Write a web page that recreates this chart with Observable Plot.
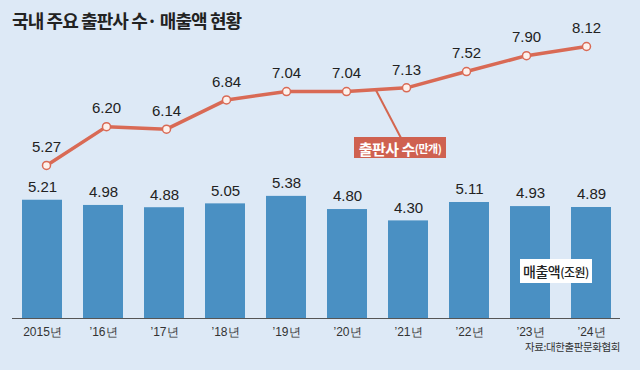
<!DOCTYPE html>
<html><head><meta charset="utf-8">
<script src="https://cdn.jsdelivr.net/npm/d3@7"></script>
<script src="https://cdn.jsdelivr.net/npm/@observablehq/plot@0.6"></script>
<style>
html,body{margin:0;padding:0;}
body{width:640px;height:370px;overflow:hidden;background:#dde9f6;font-family:"Noto Sans CJK KR","Noto Sans",sans-serif;}
#wrap{position:relative;width:640px;height:370px;}
#title{position:absolute;left:12px;top:7px;font-size:18px;font-weight:700;color:#222;letter-spacing:-0.9px;}
#wrap svg{position:absolute;left:0;top:0;}
#source{position:absolute;right:20px;top:339px;font-size:10.5px;color:#333;letter-spacing:-0.4px;}
</style></head>
<body><div id="wrap"><div id="title">국내 주요 출판사 수· 매출액 현황</div><div id="source">자료:대한출판문화협회</div></div>
<script>
const years = ["2015년","’16년","’17년","’18년","’19년","’20년","’21년","’22년","’23년","’24년"];
const sales = [5.21,4.98,4.88,5.05,5.38,4.80,4.30,5.11,4.93,4.89];
const publishers = [5.27,6.20,6.14,6.84,7.04,7.04,7.13,7.52,7.90,8.12];

const barData = years.map((y,i)=>({year:y, v:sales[i]}));
const lineData = years.map((y,i)=>({year:y, v:publishers[i]}));
const numFont = "'Liberation Sans Narrow','Liberation Sans',Arial,sans-serif";
const xOpts = {domain: years, paddingInner: 0.345, paddingOuter: 0.15};

const bars = Plot.plot({
  width: 640, height: 370,
  marginLeft: 12, marginRight: 20, marginTop: 91, marginBottom: 52,
  style: {background: "transparent", overflow: "visible"},
  x: {...xOpts, label: null, tickSize: 0, tickPadding: 8},
  y: {domain: [0, 10], axis: null},
  marks: [
    Plot.barY(barData, {x: "year", y: "v", fill: "#4a90c3"}),
    Plot.ruleY([0], {stroke: "#555", strokeWidth: 1}),
    Plot.text(barData, {x: "year", y: "v", text: d => d.v.toFixed(2), dy: -13, fontSize: 15, fill: "#222", fontFamily: numFont}),
    Plot.axisX({tickSize: 0, tickPadding: 9, fontSize: 12, fill: "#333", fontFamily: numFont, label: null})
  ]
});
document.getElementById("wrap").appendChild(bars);

const line = Plot.plot({
  width: 640, height: 370,
  marginLeft: 12, marginRight: 20, marginTop: 30, marginBottom: 52,
  style: {background: "transparent", overflow: "visible"},
  x: {...xOpts, axis: null},
  y: {domain: [1.605, 8.503], axis: null},
  marks: [
    Plot.lineY(lineData, {x: "year", y: "v", stroke: "#d96a55", strokeWidth: 3.5}),
    Plot.dot(lineData, {x: "year", y: "v", r: 4, fill: "#fdf1ec", stroke: "#d96a55", strokeWidth: 1.5}),
    Plot.text(lineData, {x: "year", y: "v", text: d => d.v.toFixed(2), dy: -18, fontSize: 15, fill: "#222", fontFamily: numFont})
  ]
});
document.getElementById("wrap").appendChild(line);

const ns = "http://www.w3.org/2000/svg";
// leader line from the series line to the label box, positioned via scales
const xs = line.scale("x"), ys = line.scale("y");
const lx1 = xs.apply("’20년") + xs.bandwidth/2 + 30;
const ly1 = ys.apply(7.06);
const leader = document.createElementNS(ns, "line");
leader.setAttribute("x1", lx1); leader.setAttribute("y1", ly1);
leader.setAttribute("x2", lx1 + 25); leader.setAttribute("y2", 138);
leader.setAttribute("stroke", "#d4664f"); leader.setAttribute("stroke-width", 2);
line.insertBefore(leader, line.firstChild.nextSibling);

function addLabel(svg, x, y, w, h, fill, parts, color) {
  const g = document.createElementNS(ns, "g");
  const r = document.createElementNS(ns, "rect");
  r.setAttribute("x", x); r.setAttribute("y", y); r.setAttribute("width", w); r.setAttribute("height", h);
  r.setAttribute("fill", fill);
  g.appendChild(r);
  const t = document.createElementNS(ns, "text");
  t.setAttribute("x", x + w/2); t.setAttribute("y", y + h/2);
  t.setAttribute("text-anchor", "middle"); t.setAttribute("dominant-baseline", "central");
  t.setAttribute("fill", color);
  t.setAttribute("font-family", "'Noto Sans CJK KR',sans-serif");
  t.setAttribute("letter-spacing", "-0.5");
  for (const p of parts) {
    const s = document.createElementNS(ns, "tspan");
    s.setAttribute("font-size", p.size); s.setAttribute("font-weight", p.weight);
    s.textContent = p.text;
    t.appendChild(s);
  }
  g.appendChild(t);
  svg.appendChild(g);
}
addLabel(line, 354, 137, 92, 21, "#cf6150", [{text:"출판사 수", size:15, weight:700},{text:"(만개)", size:11, weight:700}], "#fff");
addLabel(bars, 520, 259, 72, 24, "#ffffff", [{text:"매출액", size:14, weight:500},{text:"(조원)", size:12, weight:500}], "#222");
</script>
</body></html>
